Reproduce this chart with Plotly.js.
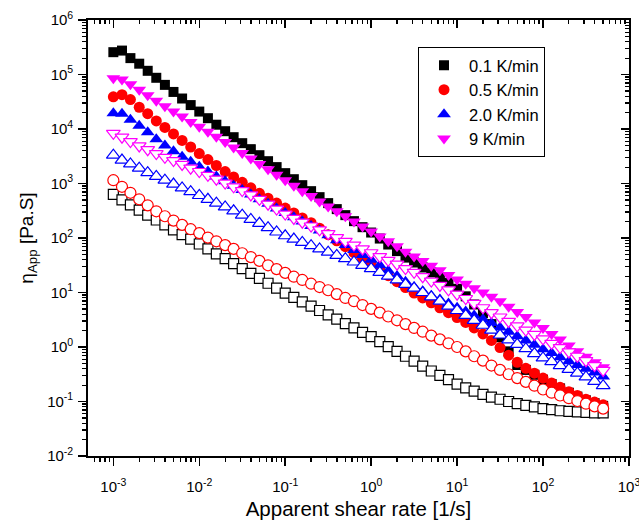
<!DOCTYPE html>
<html>
<head>
<meta charset="utf-8">
<script src="https://cdn.plot.ly/plotly-3.0.1.min.js"></script>
<style>html,body{margin:0;padding:0;background:#fff}#chart{width:639px;height:525px}</style>
</head>
<body>
<div id="chart"></div>
<script>
// Apparent shear rate [1/s]
const shearRate = [0.001,0.00126,0.00158,0.002,0.00251,0.00316,0.00398,0.00501,0.00631,0.00794,
  0.01,0.0126,0.0158,0.02,0.0251,0.0316,0.0398,0.0501,0.0631,0.0794,
  0.1,0.126,0.158,0.2,0.251,0.316,0.398,0.501,0.631,0.794,
  1,1.26,1.58,2,2.51,3.16,3.98,5.01,6.31,7.94,
  10,12.6,15.8,20,25.1,31.6,39.8,50.1,63.1,79.4,
  100,126,158,200,251,316,398,501];

// filled symbols
const eta01Filled = [257000,275000,200000,158000,117000,87100,64600,47900,36300,27500,
  20900,15800,12000,9120,7080,5500,4270,3310,2570,2000,
  1550,1200,933,724,562,437,339,263,204,158,
  126,97.7,75.9,57.5,43.7,35.5,28.8,23.4,19.1,15.1,
  11.7,8.51,6.03,4.17,2.63,1.51,0.832,0.468,0.380,0.309,
  0.251,0.209,0.174,0.145,0.123,0.105,0.0933,0.0832];
const eta05Filled = [38900,42700,34700,25100,19100,14100,10700,8130,6170,4680,
  3550,2750,2140,1660,1320,1050,832,661,537,437,
  355,288,234,191,151,115,89.1,69.2,53.7,41.7,
  33.1,26.3,20.4,15.8,12.3,9.77,7.94,6.46,5.25,4.27,
  3.47,2.82,2.24,1.74,1.32,0.977,0.708,0.525,0.407,0.331,
  0.269,0.219,0.182,0.151,0.129,0.110,0.0977,0.0871];
const eta20Filled = [19500,19100,14800,11500,8710,6460,5010,3890,3090,2510,
  2040,1660,1350,1100,912,759,631,513,427,347,
  288,240,200,166,138,112,91.2,74.1,60.3,49.0,
  39.8,31.6,25.1,20.0,15.8,12.6,10.5,8.71,7.41,6.31,
  5.25,4.47,3.80,3.24,2.75,2.29,1.91,1.58,1.32,1.10,
  0.912,0.776,0.646,0.550,0.468,0.398,0.339,0.288];
const eta9Filled = [85100,81300,66100,52500,41700,33100,26300,20900,17000,13500,
  11000,8910,7240,5750,4570,3630,2880,2290,1820,1450,
  1150,912,724,589,468,380,309,251,200,162,
  132,107,87.1,70.8,56.2,45.7,38.0,30.9,25.7,20.9,
  17.4,14.5,12.0,10.0,8.32,6.92,5.50,4.37,3.55,2.82,
  2.24,1.74,1.38,1.07,0.832,0.661,0.525,0.427];

// open symbols
const eta01Open = [631,501,407,324,263,214,174,141,115,95.5,
  77.6,63.1,51.3,41.7,33.9,27.5,22.4,18.2,14.8,12.0,
  9.77,8.13,6.76,5.62,4.68,3.89,3.24,2.69,2.24,1.86,
  1.55,1.26,1.02,0.832,0.676,0.550,0.447,0.363,0.302,0.251,
  0.209,0.178,0.155,0.135,0.120,0.110,0.100,0.0912,0.0851,0.0794,
  0.0741,0.0708,0.0676,0.0661,0.0646,0.0631,0.0617,0.0617];
const eta05Open = [1150,871,676,513,398,309,251,209,174,145,
  123,102,87.1,74.1,63.1,52.5,44.7,38.0,31.6,26.9,
  22.9,19.5,17.0,14.5,12.6,11.0,9.33,7.94,6.92,5.89,
  5.01,4.27,3.63,3.09,2.63,2.24,1.91,1.62,1.38,1.17,
  1.00,0.832,0.676,0.562,0.457,0.380,0.316,0.269,0.229,0.195,
  0.166,0.145,0.129,0.115,0.102,0.0912,0.0813,0.0741];
const eta20Open = [3310,2690,2290,1910,1580,1350,1150,977,832,708,
  603,513,437,372,316,263,219,186,155,129,
  110,95.5,83.2,72.4,63.1,55.0,47.9,41.7,36.3,31.6,
  27.5,23.4,20.0,17.0,14.1,12.0,10.0,8.32,6.92,5.62,
  4.68,3.80,3.09,2.51,2.04,1.66,1.35,1.12,0.933,0.759,
  0.631,0.537,0.457,0.389,0.331,0.282,0.234,0.195];
const eta9Open = [8320,7080,5890,4900,4170,3550,3020,2630,2240,1910,
  1660,1410,1200,1020,871,741,617,513,417,339,
  275,229,195,166,141,120,102,87.1,74.1,63.1,
  53.7,45.7,38.9,33.1,27.5,23.4,19.5,16.2,13.5,11.2,
  9.33,7.76,6.31,5.25,4.27,3.55,2.95,2.45,2.04,1.70,
  1.41,1.17,0.977,0.813,0.676,0.562,0.457,0.372];

const seriesNames = ['0.1 K/min', '0.5 K/min', '2.0 K/min', '9 K/min'];
const seriesColors = ['#000000', '#FF0000', '#0000FF', '#FF00FF'];
const seriesSymbols = ['square', 'circle', 'triangle-up', 'triangle-down'];
const filledData = [eta01Filled, eta05Filled, eta20Filled, eta9Filled];
const openData = [eta01Open, eta05Open, eta20Open, eta9Open];
const symbolSizes = [10, 11, 12, 12];

// tick labels
const xExponents = [-3, -2, -1, 0, 1, 2, 3];
const yExponents = [-2, -1, 0, 1, 2, 3, 4, 5, 6];

const traces = [];
for (let k = 0; k < 4; k++) {
  traces.push({
    x: shearRate, y: filledData[k], type: 'scatter', mode: 'markers',
    name: seriesNames[k], showlegend: true, hoverinfo: 'x+y',
    marker: {symbol: seriesSymbols[k], size: symbolSizes[k], color: seriesColors[k], line: {width: 0}}
  });
  traces.push({
    x: shearRate, y: openData[k], type: 'scatter', mode: 'markers',
    name: seriesNames[k] + ' (open)', showlegend: false, hoverinfo: 'x+y',
    marker: {symbol: seriesSymbols[k], size: symbolSizes[k], color: '#FFFFFF', line: {width: 1.2, color: seriesColors[k]}}
  });
}
// helper trace so the mirrored (inside-tick) top/right axes exist
traces.push({x: [null], y: [null], xaxis: 'x2', yaxis: 'y2', type: 'scatter', mode: 'markers', showlegend: false, hoverinfo: 'skip'});

function majorVals(exps) { return exps.map(e => Math.pow(10, e)); }
function majorText(exps) { return exps.map(e => '10<sup>' + (e < 0 ? '-' + (-e) : e) + '</sup>'); }
function minorVals(exps) {
  const v = [];
  for (let i = 0; i < exps.length - 1; i++) for (let m = 2; m <= 9; m++) v.push(m * Math.pow(10, exps[i]));
  v.push(2e-4, 3e-4, 4e-4, 5e-4, 6e-4, 7e-4, 8e-4, 9e-4);
  return v;
}

const fontFam = '"Liberation Sans", Arial, Helvetica, sans-serif';
const xRange = [-3.295, 3.0005];
const yRange = [-2, 6.0005];

function axisBase(exps, range) {
  return {
    type: 'log', range: range, tickmode: 'array', tickvals: majorVals(exps), ticktext: majorText(exps),
    showgrid: false, zeroline: false,
    tickwidth: 1.5, tickcolor: '#000', ticklen: 8,
    minor: {tickmode: 'array', tickvals: minorVals(exps), ticklen: 4, tickwidth: 1.2, tickcolor: '#000', showgrid: false}
  };
}

const xa = axisBase(xExponents, xRange);
Object.assign(xa, {
  showline: true, linecolor: '#000', linewidth: 1.8, mirror: true, ticks: 'outside',
  ticklabelstandoff: 8, ticklabeloverflow: 'allow',
  tickfont: {family: fontFam, size: 15, color: '#000'},
  title: {text: 'Apparent shear rate [1/s]', font: {family: fontFam, size: 20.5, color: '#000'}, standoff: 8}
});
xa.minor.ticks = 'outside';
const ya = axisBase(yExponents, yRange);
Object.assign(ya, {
  showline: true, linecolor: '#000', linewidth: 1.8, mirror: true, ticks: 'outside',
  ticklabelstandoff: 2,
  tickfont: {family: fontFam, size: 15, color: '#000'},
  title: {text: 'η<sub>App</sub> [Pa.S]', font: {family: fontFam, size: 19, color: '#000'}, standoff: 8}
});
ya.minor.ticks = 'outside';
const xa2 = axisBase(xExponents, xRange);
Object.assign(xa2, {overlaying: 'x', side: 'top', anchor: 'y2', showline: false, showticklabels: false, ticks: 'inside'});
xa2.minor.ticks = 'inside';
const ya2 = axisBase(yExponents, yRange);
Object.assign(ya2, {overlaying: 'y', side: 'right', anchor: 'x2', showline: false, showticklabels: false, ticks: 'inside'});
ya2.minor.ticks = 'inside';

const layout = {
  width: 639, height: 525,
  margin: {l: 88, r: 10, t: 20, b: 69},
  paper_bgcolor: '#ffffff', plot_bgcolor: '#ffffff',
  font: {family: fontFam, color: '#000', size: 14},
  showlegend: true,
  legend: {
    x: 0.61, y: 0.938, xanchor: 'left', yanchor: 'top',
    bordercolor: '#000', borderwidth: 1, bgcolor: '#fff',
    font: {family: fontFam, size: 16.5, color: '#000'},
    itemwidth: 40, tracegroupgap: 0
  },
  xaxis: xa, yaxis: ya, xaxis2: xa2, yaxis2: ya2
};

Plotly.newPlot('chart', traces, layout, {staticPlot: true, displayModeBar: false});
</script>
</body>
</html>
